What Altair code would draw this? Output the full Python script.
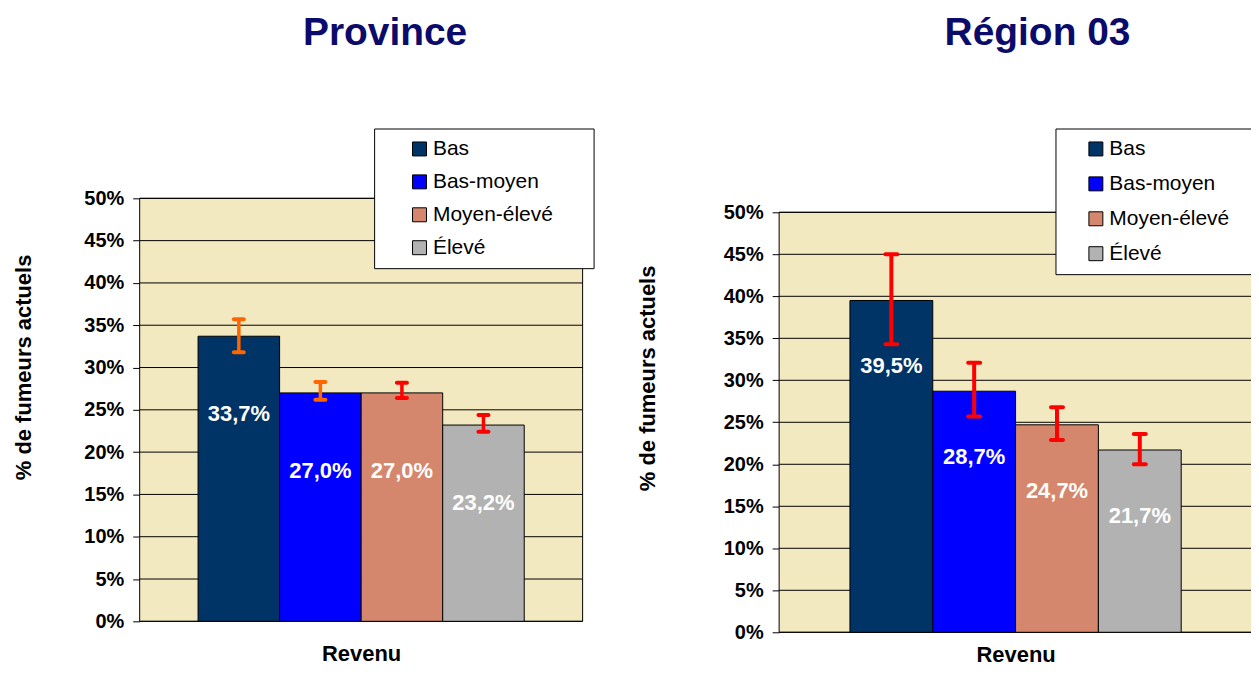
import altair as alt
import pandas as pd

categories = ["Bas", "Bas-moyen", "Moyen-élevé", "Élevé"]
bar_colors = ["#003366", "#0000FF", "#D4876C", "#B2B2B2"]
y_ticks = [0, 5, 10, 15, 20, 25, 30, 35, 40, 45, 50]

prov_values = [33.7, 27.0, 27.0, 23.2]
prov_low = [31.8, 26.2, 26.4, 22.4]
prov_high = [35.7, 28.3, 28.2, 24.4]
prov_err_colors = ["#FF6600", "#FF6600", "#FF0000", "#FF0000"]

reg_values = [39.5, 28.7, 24.7, 21.7]
reg_low = [34.3, 25.7, 22.9, 20.0]
reg_high = [45.0, 32.1, 26.8, 23.6]
reg_err_colors = ["#FF0000", "#FF0000", "#FF0000", "#FF0000"]

FONT = "Liberation Sans"
BG = "#F3E9C1"
BLANK = "\u2800"  # blank braille cell: widens the legend box on the right


def fmt(v):
    return f"{v:.1f}".replace(".", ",") + "%"


def panel(title, values, low, high, errc, width, height, ymax, pad_outer,
          label_dy, leg_x, leg_y, sym_off, row_pad, leg_blanks,
          ytitle_x, ytitle_y, xtitle_pad, title_dx, err_w, cap_size):
    df = pd.DataFrame({
        "cat": categories,
        "value": values,
        "low": low,
        "high": high,
        "errc": errc,
        "label": [fmt(v) for v in values],
    })
    grid_df = pd.DataFrame({"tick": y_ticks})
    bg_df = pd.DataFrame({"lo": [y_ticks[0]], "hi": [y_ticks[-1]]})

    yscale = alt.Scale(domain=[0, ymax], nice=False, zero=True)
    yaxis = alt.Axis(
        values=y_ticks, labelExpr="datum.value + '%'", grid=False, domain=False,
        tickColor="black", tickSize=7, tickWidth=1,
        labelFont=FONT, labelFontSize=20, labelFontWeight="bold", labelColor="black",
        labelPadding=9, labelFlush=False, labelOverlap=False,
        title="% de fumeurs actuels", titleFont=FONT, titleFontSize=22,
        titleFontWeight="bold", titleColor="black",
        titleX=ytitle_x, titleY=ytitle_y,
    )
    xscale = alt.Scale(domain=categories, paddingInner=0, paddingOuter=pad_outer)
    xaxis = alt.Axis(
        title="Revenu", labels=False, ticks=False, domain=False,
        titleFont=FONT, titleFontSize=22, titleFontWeight="bold",
        titleColor="black", titlePadding=xtitle_pad,
    )

    bg = alt.Chart(bg_df).mark_rect(fill=BG, stroke="black", strokeWidth=1).encode(
        x=alt.value(0), x2=alt.value(width),
        y=alt.Y("lo:Q", scale=yscale, axis=yaxis), y2="hi:Q",
    )
    grid = alt.Chart(grid_df).mark_rule(color="black", strokeWidth=1).encode(
        x=alt.value(0), x2=alt.value(width),
        y=alt.Y("tick:Q", scale=yscale, axis=yaxis),
    )
    bars = alt.Chart(df).mark_bar(stroke="black", strokeWidth=1, opacity=1).encode(
        x=alt.X("cat:N", sort=categories, scale=xscale, axis=xaxis),
        y=alt.Y("value:Q", scale=yscale, axis=yaxis),
        color=alt.Color(
            "cat:N", sort=categories,
            scale=alt.Scale(domain=categories, range=bar_colors),
            legend=alt.Legend(
                title=None, orient="none", legendX=leg_x, legendY=leg_y,
                padding=10, fillColor="white", strokeColor="black",
                symbolType="square", symbolSize=196, symbolStrokeColor="black",
                symbolStrokeWidth=1, symbolOffset=sym_off,
                labelOffset=3, labelFont=FONT, labelFontSize=21,
                labelColor="black", rowPadding=row_pad, labelLimit=400,
                labelExpr="datum.label + '" + BLANK * leg_blanks + "'",
            ),
        ),
    )
    err = alt.Chart(df).mark_rule(strokeWidth=err_w).encode(
        x=alt.X("cat:N", sort=categories, scale=xscale, axis=xaxis),
        y=alt.Y("low:Q", scale=yscale, axis=yaxis), y2="high:Q",
        stroke=alt.Stroke("errc:N", scale=None),
    )
    cap_lo = alt.Chart(df).mark_tick(thickness=4, size=cap_size, opacity=1, cornerRadius=2).encode(
        x=alt.X("cat:N", sort=categories, scale=xscale, axis=xaxis),
        y=alt.Y("low:Q", scale=yscale, axis=yaxis),
        fill=alt.Fill("errc:N", scale=None),
    )
    cap_hi = alt.Chart(df).mark_tick(thickness=4, size=cap_size, opacity=1, cornerRadius=2).encode(
        x=alt.X("cat:N", sort=categories, scale=xscale, axis=xaxis),
        y=alt.Y("high:Q", scale=yscale, axis=yaxis),
        fill=alt.Fill("errc:N", scale=None),
    )
    labels = alt.Chart(df).mark_text(
        dy=label_dy, color="white", font=FONT, fontSize=22, fontWeight="bold",
    ).encode(
        x=alt.X("cat:N", sort=categories, scale=xscale, axis=xaxis),
        y=alt.Y("value:Q", scale=yscale, axis=yaxis),
        text="label:N",
    )
    return alt.layer(bg, grid, bars, err, cap_lo, cap_hi, labels).properties(
        width=width, height=height,
        title=alt.TitleParams(
            title, font=FONT, fontSize=39, fontWeight="bold",
            color="#0B0B6B", anchor="middle", dx=title_dx, offset=75,
        ),
    )


left = panel("Province", prov_values, prov_low, prov_high, prov_err_colors,
             width=444, height=424, ymax=50, pad_outer=0.716, label_dy=78,
             leg_x=235, leg_y=-70, sym_off=25, row_pad=11, leg_blanks=2,
             ytitle_x=-104, ytitle_y=169, xtitle_pad=22, title_dx=24,
             err_w=3.5, cap_size=14)

right = panel("Région 03", reg_values, reg_low, reg_high, reg_err_colors,
              width=474, height=435, ymax=50 * 435 / 421, pad_outer=0.855, label_dy=66,
              leg_x=277, leg_y=-70, sym_off=20, row_pad=13, leg_blanks=2,
              ytitle_x=-120, ytitle_y=180, xtitle_pad=12, title_dx=22,
              err_w=4, cap_size=16)

chart = alt.hconcat(left, right, spacing=41).resolve_scale(
    color="independent", x="independent", y="independent"
).properties(
    padding={"left": 5, "top": 5, "right": -20, "bottom": 0},
    background="white",
).configure_view(stroke=None)

chart.save("out.html", embed_options={"renderer": "svg", "actions": False})
